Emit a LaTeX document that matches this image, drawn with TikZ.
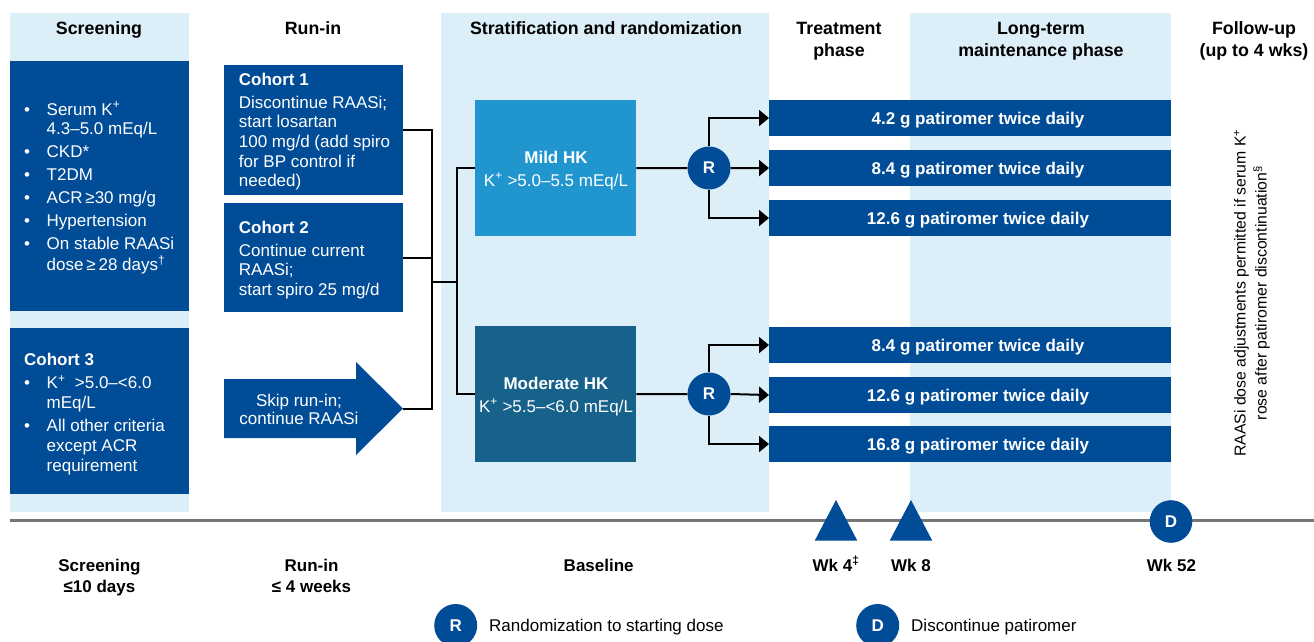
\documentclass[tikz,border=0pt]{standalone}
\usepackage{fontspec}
\setmainfont{Liberation Sans}
\usetikzlibrary{arrows.meta}
\definecolor{dblue}{RGB}{0,76,151}
\definecolor{lbg}{RGB}{220,239,249}
\definecolor{mildc}{RGB}{33,150,206}
\definecolor{modc}{RGB}{22,98,138}
\definecolor{tlc}{RGB}{118,118,118}
\newcommand\ml[2]{\begin{tabular}[t]{@{}#1@{}}#2\end{tabular}}
\newcommand\bl{\makebox[22.5pt][l]{\textbullet}}
\newcommand\ind{\hspace*{22.5pt}}
\newcommand\ksup{K\textsuperscript{+}}
\newcommand\fbody{\fontsize{17}{19.7}\selectfont}
\newcommand\fhead{\fontsize{17.8}{21}\selectfont\bfseries}
\newcommand\fbar{\fontsize{17}{20}\selectfont\bfseries}
\newcommand\fnote{\fontsize{15.8}{21}\selectfont}
\begin{document}
\begin{tikzpicture}[x=1pt,y=-1pt,
  bgcol/.style={fill=lbg, draw=none, inner sep=0pt, anchor=north west},
  box/.style={fill=dblue, draw=none, inner sep=0pt, anchor=north west, minimum width=179pt},
  hk/.style={draw=none, inner sep=0pt, anchor=north west, minimum width=161pt, minimum height=136pt},
  bar/.style={fill=dblue, draw=none, inner sep=0pt, anchor=north west, minimum width=402pt, minimum height=35.7pt},
  wtxt/.style={inner sep=0pt, anchor=base west, text=white, font=\fbody},
  ctxt/.style={inner sep=0pt, anchor=base, text=white, font=\fbody},
  bartxt/.style={inner sep=0pt, anchor=base, text=white, font=\fbar},
  hdr/.style={inner sep=0pt, anchor=base, text=black, font=\fhead},
  conn/.style={draw=black, line width=2pt},
  arr/.style={conn, -{Triangle[length=10pt,width=16pt]}},
  rc/.style={circle, fill=dblue, draw=none, minimum size=43pt, inner sep=0pt, text=white, font=\fbar},
  legtxt/.style={inner sep=0pt, anchor=base west, text=black, font=\fbody},
]
\useasboundingbox (0,0) rectangle (1314,642);
\clip (0,0) rectangle (1314,642);

% background columns
\node[bgcol, minimum width=179pt, minimum height=499pt] (colscr) at (10,13) {};
\node[bgcol, minimum width=328pt, minimum height=499pt] (colstr) at (441,13) {};
\node[bgcol, minimum width=261pt, minimum height=499pt] (collt) at (910,13) {};

% headers
\node[hdr] (hscr) at (99,35) {Screening};
\node[hdr] (hrun) at (313,35) {Run-in};
\node[hdr] (hstr) at (606,35) {Stratification and randomization};
\node[hdr] (htrt) at (839,35) {\ml{c}{Treatment\\phase}};
\node[hdr] (hlt) at (1041,35) {\ml{c}{Long-term\\maintenance phase}};
\node[hdr] (hfu) at (1254,35) {\ml{c}{Follow-up\\(up to 4 wks)}};

% screening boxes
\node[box, minimum height=250pt] (scr) at (10,61) {};
\node[wtxt] (scrtxt) at (24,115) {\ml{l}{\bl Serum \ksup\\ \ind 4.3–5.0 mEq/L\\[3.3pt]
 \bl CKD*\\[3.3pt] \bl T2DM\\[3.3pt] \bl ACR\,≥30 mg/g\\[3.3pt] \bl Hypertension\\[3.3pt]
 \bl On stable RAASi\\ \ind dose\,≥\,28 days\textsuperscript{†}}};
\node[box, minimum height=166pt] (c3) at (10,328) {};
\node[wtxt] (c3txt) at (24,365) {\ml{l}{\textbf{Cohort 3}\\[3.6pt]
 \bl \ksup\ \ >5.0–<6.0\\ \ind mEq/L\\[4pt] \bl All other criteria\\ \ind except ACR\\ \ind requirement}};

% run-in boxes
\node[box, minimum height=130pt] (c1) at (224,65) {};
\node[wtxt] (c1txt) at (238.7,85) {\ml{l}{\textbf{Cohort 1}\\[3.3pt] Discontinue RAASi;\\ start losartan\\
 100 mg/d (add spiro\\ for BP control if\\ needed)}};
\node[box, minimum height=109pt] (c2) at (224,203) {};
\node[wtxt] (c2txt) at (238.7,233.3) {\ml{l}{\textbf{Cohort 2}\\[3pt] Continue current\\ RAASi;\\ start spiro 25 mg/d}};

% skip arrow
\fill[dblue] (224,379) -- (356,379) -- (356,362) -- (403,408.5) -- (356,455) -- (356,438) -- (224,438) -- cycle;
\coordinate (skiptip) at (403,408.5);
\node[ctxt] (skiptxt) at (299,406) {\ml{c}{Skip run-in;\\[-1.4pt] continue RAASi}};

% stratification boxes
\node[hk, fill=mildc] (mild) at (475,100) {};
\node[ctxt] (mildtxt) at (556,163.7) {\ml{c}{\textbf{Mild HK}\\[2.6pt] \ksup\ >5.0–5.5 mEq/L}};
\node[hk, fill=modc] (moder) at (475,326) {};
\node[ctxt] (modtxt) at (556,389.3) {\ml{c}{\textbf{Moderate HK}\\[3pt] \ksup\ >5.5–<6.0 mEq/L}};

% R circles
\node[rc] (r1) at (709,168) {R};
\node[rc] (r2) at (709,394) {R};

% dose bars
\node[bar] (b1) at (769,100) {};
\node[bar] (b2) at (769,150) {};
\node[bar] (b3) at (769,200) {};
\node[bar] (b4) at (769,327) {};
\node[bar] (b5) at (769,377) {};
\node[bar] (b6) at (769,426) {};
\node[bartxt] (t1) at (978,124) {4.2 g patiromer twice daily};
\node[bartxt] (t2) at (978,174) {8.4 g patiromer twice daily};
\node[bartxt] (t3) at (978,224) {12.6 g patiromer twice daily};
\node[bartxt] (t4) at (978,351) {8.4 g patiromer twice daily};
\node[bartxt] (t5) at (978,401) {12.6 g patiromer twice daily};
\node[bartxt] (t6) at (978,450) {16.8 g patiromer twice daily};

% connectors
\coordinate (j1) at (432,282);
\coordinate (j2) at (457,282);
\draw[conn] (c1.east) -| (j1) |- (skiptip);
\draw[conn] (c2.east) -- (c2.east -| j1);
\draw[conn] (j1) -- (j2);
\draw[conn] (mild.west) -| (j2) |- (moder.west);
\draw[conn] (mild.east) -- (r1.west);
\draw[conn] (moder.east) -- (r2.west);
\draw[arr] (r1.north) |- (b1.west);
\draw[arr] (r1.east) -- (b2.west);
\draw[arr] (r1.south) |- (b3.west);
\draw[arr] (r2.north) |- (b4.west);
\draw[arr] (r2.east) -- (b5.west);
\draw[arr] (r2.south) |- (b6.west);

% follow-up note
\node[rotate=90, inner sep=0pt, font=\fnote] (note) at (1251.8,293)
 {\ml{c}{RAASi dose adjustments permitted if serum \ksup\\ rose after patiromer discontinuation\textsuperscript{§}}};

% timeline
\coordinate (tl0) at (10,520);
\coordinate (tl1) at (1314,520);
\draw[tlc, line width=3pt] (tl0) -- (tl1);
\fill[dblue] (814.7,540.7) -- (836,500) -- (857.3,540.7) -- cycle;
\fill[dblue] (889.7,540.7) -- (911,500) -- (932.3,540.7) -- cycle;
\node[rc, minimum size=42.6pt] (dwk) at (1171,521.5) {D};

% bottom labels
\node[hdr, font=\fontsize{17}{21}\selectfont\bfseries] (lscr) at (99.5,571) {\ml{c}{Screening\\ ≤10 days}};
\node[hdr, font=\fontsize{17}{21}\selectfont\bfseries] (lrun) at (311.5,571) {\ml{c}{Run-in\\ ≤ 4 weeks}};
\node[hdr, font=\fontsize{17}{21}\selectfont\bfseries] (lbase) at (598.7,571) {Baseline};
\node[hdr, font=\fontsize{17}{21}\selectfont\bfseries] (lw4) at (836,571) {Wk 4\textsuperscript{‡}};
\node[hdr, font=\fontsize{17}{21}\selectfont\bfseries] (lw8) at (911,571) {Wk 8};
\node[hdr, font=\fontsize{17}{21}\selectfont\bfseries] (lw52) at (1171.5,571) {Wk 52};

% legend
\node[rc] (legr) at (455.7,625.5) {R};
\node[legtxt] (legrt) at (489,631) {Randomization to starting dose};
\node[rc] (legd) at (877.7,625.5) {D};
\node[legtxt] (legdt) at (911,631) {Discontinue patiromer};
\end{tikzpicture}
\end{document}
